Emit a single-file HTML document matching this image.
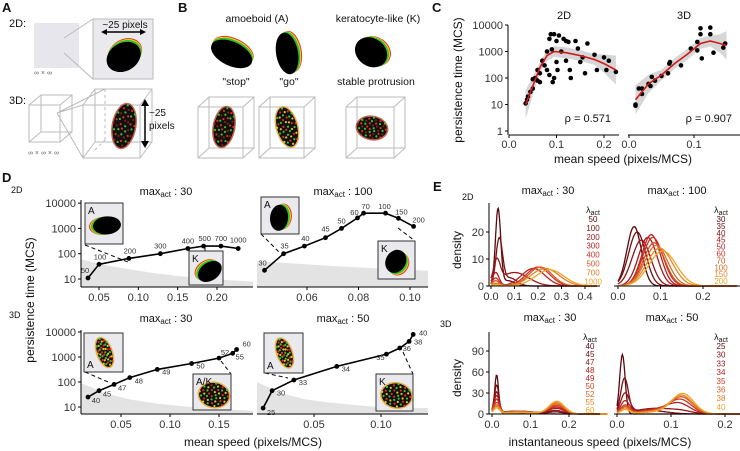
<!DOCTYPE html>
<html><head><meta charset="utf-8"><style>
html,body{margin:0;padding:0;background:#fff;}
svg{display:block;font-family:"Liberation Sans",sans-serif;}
</style></head><body>
<svg id="fig" width="740" height="451" viewBox="0 0 740 451" xmlns="http://www.w3.org/2000/svg"></svg>
<script>
// ---------- DATA ----------
const c2dSpeed=[0.035,0.038,0.04,0.045,0.05,0.05,0.055,0.06,0.06,0.065,0.065,0.07,0.075,0.08,0.08,0.085,0.085,0.088,0.09,0.092,0.095,0.095,0.1,0.1,0.102,0.105,0.11,0.115,0.12,0.12,0.125,0.128,0.13,0.14,0.145,0.15,0.155,0.16,0.165,0.18,0.185,0.2,0.205,0.21,0.225];
const c2dPers=[11,15,20,30,40,90,100,80,200,70,150,450,300,1000,200,130,3000,4500,1200,70,4500,100,400,2500,200,4000,1000,3000,2500,450,2300,200,100,2500,1300,400,600,150,2000,750,200,600,200,450,170];
const c2dFitSpeed=[0.035,0.05,0.065,0.08,0.095,0.12,0.15,0.18,0.2,0.225];
const c2dFitPers=[10,50,250,700,1000,900,700,500,350,200];
const c3dSpeed=[0.01,0.01,0.015,0.02,0.02,0.03,0.033,0.035,0.04,0.05,0.06,0.062,0.063,0.08,0.095,0.105,0.105,0.11,0.11,0.112,0.125,0.125,0.13,0.145,0.148];
const c3dPers=[9,10,40,25,40,60,50,110,80,120,150,350,400,300,1300,2300,1100,4500,7500,550,8000,4500,900,1400,2000];
const c3dFitSpeed=[0.01,0.03,0.05,0.07,0.09,0.11,0.125,0.14,0.15];
const c3dFitPers=[15,60,130,350,800,2000,2500,2000,1700];
const dTLlambda=['50','100','200','300','400','500','700','1000'];
const dTLspeed=[0.036,0.05,0.088,0.128,0.163,0.183,0.205,0.227];
const dTLpers=[11,38,65,100,160,200,200,160];
const dTRlambda=['30','35','40','45','50','60','70','100','150','200'];
const dTRspeed=[0.0435,0.0509,0.059,0.0672,0.0734,0.0796,0.082,0.0905,0.0955,0.1014];
const dTRpers=[22,100,200,430,1000,2600,4000,4000,2500,1200];
const dBLlambda=['40','45','47','48','49','50','52','55','60'];
const dBLspeed=[0.0163,0.0276,0.043,0.059,0.087,0.122,0.150,0.164,0.168];
const dBLpers=[25,45,80,150,320,550,900,1400,2000];
const dBRlambda=['25','30','33','34','35','36','38','40'];
const dBRspeed=[0.012,0.0187,0.035,0.067,0.104,0.114,0.121,0.124];
const dBRpers=[9,45,120,420,1300,2300,4200,8000];
const eTLlambda=['50','100','200','300','400','500','700','1000'];
const eTLpeaks=[[28,0.03,0.011,2,0.07,0.03],[17,0.035,0.014,3,0.08,0.03],[8,0.025,0.014,5,0.1,0.06],[5,0.02,0.014,6.5,0.18,0.05],[3,0.02,0.014,7,0.2,0.05],[2,0.02,0.014,7,0.21,0.05],[1,0.02,0.02,6.5,0.23,0.06],[0.5,0.02,0.02,6,0.25,0.06]];
const eTRlambda=['30','35','40','45','50','60','70','100','150','200'];
const eTRpeaks=[[22,0.038,0.017],[20,0.045,0.02],[17,0.055,0.022],[18,0.07,0.022],[19,0.078,0.022],[18,0.082,0.024],[16,0.085,0.025],[15,0.09,0.027],[14,0.098,0.03],[13,0.105,0.032]];
const eBLlambda=['40','45','47','48','49','50','52','55','60'];
const eBLpeaks=[[55,0.012,0.005,2,0.06,0.04],[40,0.012,0.006,3,0.06,0.04,3,0.165,0.02],[30,0.012,0.006,4,0.06,0.04,5,0.165,0.02],[25,0.012,0.007,4,0.07,0.04,8,0.167,0.02],[20,0.012,0.007,4,0.07,0.04,10,0.167,0.02],[15,0.012,0.008,4,0.07,0.04,12,0.168,0.02],[12,0.012,0.008,3,0.07,0.04,14,0.168,0.02],[10,0.012,0.008,3,0.07,0.04,16,0.168,0.02],[8,0.012,0.008,2,0.07,0.04,18,0.168,0.02]];
const eBRlambda=['25','30','33','34','35','36','38','40'];
const eBRpeaks=[[85,0.01,0.005],[50,0.014,0.007,5,0.06,0.03],[28,0.015,0.008,8,0.07,0.035,3,0.12,0.02],[18,0.015,0.008,7,0.08,0.035,12,0.115,0.02],[12,0.015,0.008,6,0.08,0.035,18,0.118,0.02],[10,0.015,0.008,5,0.08,0.035,22,0.12,0.02],[8,0.015,0.008,4,0.08,0.035,25,0.12,0.02],[6,0.015,0.008,3,0.08,0.035,28,0.122,0.02]];

// ---------- HELPERS ----------
const NS='http://www.w3.org/2000/svg';
const svg=document.getElementById('fig');
const TF=11;
function mk(tag,attrs,parent){const e=document.createElementNS(NS,tag);for(const k in attrs)e.setAttribute(k,attrs[k]);(parent||svg).appendChild(e);return e;}
function txt(x,y,s,size,anchor,parent,extra){const t=mk('text',Object.assign({x:x,y:y,'font-size':size,'text-anchor':anchor||'middle',fill:'#111'},extra||{}),parent);t.textContent=s;return t;}
function lin(d0,d1,r0,r1){return v=>r0+(v-d0)*(r1-r0)/(d1-d0);}
function logy(y10,dec){return v=>y10-(Math.log10(v)-1)*dec;}
function lerpColor(t){const a=[90,8,12],b=[200,35,35],c=[240,165,40];let p,q,u;if(t<0.5){p=a;q=b;u=t*2;}else{p=b;q=c;u=(t-0.5)*2;}return 'rgb('+p.map((v,i)=>Math.round(v+(q[i]-v)*u)).join(',')+')';}

[['A',2,12],['B',178,12],['C',432,12],['D',2,182],['E',433,191]].forEach(l=>{const t=txt(l[1],l[2],l[0],13,'start',null,{'font-weight':'bold'});});

function blob2d(g,cx,cy,rx,ry,rot,edgeAngle){
  const gg=mk('g',{transform:'translate('+cx+','+cy+') rotate('+rot+')'},g);
  const cols=['#e53020','#f5d020','#30c030'];
  cols.forEach((c,i)=>{mk('ellipse',{cx:Math.cos(edgeAngle)*(3-i),cy:Math.sin(edgeAngle)*(3-i),rx:rx,ry:ry,fill:c},gg);});
  mk('ellipse',{cx:-Math.cos(edgeAngle)*1,cy:-Math.sin(edgeAngle)*1,rx:rx,ry:ry,fill:'#000'},gg);
}
function blob3d(g,cx,cy,rx,ry,rot,mix){
  const gg=mk('g',{transform:'translate('+cx+','+cy+') rotate('+rot+')'},g);
  mk('ellipse',{cx:0,cy:0,rx:rx+1.5,ry:ry+1.5,fill:mix>0.5?'#e8a020':'#b84020',opacity:0.8},gg);
  mk('ellipse',{cx:0,cy:0,rx:rx,ry:ry,fill:'#111'},gg);
  for(let i=0;i<40;i++){const a=i*2.39996,r=Math.sqrt((i+0.5)/40);const x=Math.cos(a)*r*rx,y=Math.sin(a)*r*ry;
    mk('circle',{cx:x.toFixed(1),cy:y.toFixed(1),r:1.1,fill:(i%3==0)?'#40c030':(i%3==1?'#e03020':(mix>0.5?'#f0c020':'#802010'))},gg);}
}
function cube(g,x,y,w,h,dx,dy,col){
  const s={fill:'none',stroke:col||'#bbb','stroke-width':1};
  mk('rect',Object.assign({x:x+dx,y:y-dy,width:w,height:h},s),g);
  mk('path',Object.assign({d:`M${x},${y}L${x+dx},${y-dy}M${x+w},${y}L${x+w+dx},${y-dy}M${x+w},${y+h}L${x+w+dx},${y+h-dy}M${x},${y+h}L${x+dx},${y+h-dy}`},s),g);
  mk('rect',Object.assign({x:x,y:y,width:w,height:h},s),g);
}

// ---------- Panel A ----------
const gA=mk('g',{});
txt(9,27,'2D:',11,'start',gA);
mk('rect',{x:34,y:23,width:45,height:45,fill:'#e6e6ec'},gA);
txt(34,75,'∞ × ∞',7,'start',gA,{fill:'#666'});
mk('path',{d:'M64,38L93,19M64,53L93,79',stroke:'#bbb',fill:'none'},gA);
mk('rect',{x:93,y:19,width:60,height:60,fill:'#eaeaee',stroke:'#bbb'},gA);
txt(125,28,'~25 pixels',10,'middle',gA);
mk('path',{d:'M103,32L144,32',stroke:'#000','stroke-width':1.5},gA);
mk('path',{d:'M101,32L107,29L107,35Z M146,32L140,29L140,35Z',fill:'#000'},gA);
blob2d(gA,124,56,18,14,-30,-0.7);
txt(9,104,'3D:',11,'start',gA);
cube(gA,29,105,31,37,12,10,'#bbb');
txt(28,155,'∞ × ∞ × ∞',7,'start',gA,{fill:'#666'});
mk('path',{d:'M57,113L105,89M57,113L83,105M57,113L83,158',stroke:'#bbb',fill:'none'},gA);
cube(gA,83,105,57,53,12,16,'#bbb');
mk('path',{d:'M95,150L105,140M105,89L105,140',stroke:'#bbb','stroke-dasharray':'3,3',fill:'none'},gA);
blob3d(gA,124,126,11,22,10,0.3);
mk('path',{d:'M145,102L145,145',stroke:'#000','stroke-width':1.5},gA);
mk('path',{d:'M145,99L141,106L149,106Z M145,148L141,141L149,141Z',fill:'#000'},gA);
txt(149,116,'~25',10,'start',gA);txt(149,129,'pixels',10,'start',gA);

// ---------- Panel B ----------
const gB=mk('g',{});
txt(257,22,'amoeboid (A)',10.5,'middle',gB);
txt(378,22,'keratocyte-like (K)',10.5,'middle',gB);
txt(236,85,'"stop"',10.5,'middle',gB);txt(289,85,'"go"',10.5,'middle',gB);txt(376,85,'stable protrusion',10.5,'middle',gB);
blob2d(gB,232,53,22,12,25,-1.6);
blob2d(gB,288,53,11,21,-10,-0.3);
blob2d(gB,372,52,17,14,35,-0.9);
cube(gB,198,107,45,51,11,10);cube(gB,259,107,45,51,11,10);cube(gB,346,107,48,51,11,10);
blob3d(gB,224,127,10,20,10,0.2);blob3d(gB,287,127,10,20,-15,0.6);blob3d(gB,372,128,15,11,10,0.4);

// ---------- Panel C ----------
const gC=mk('g',{});
const cy=v=>131-26.5*Math.log10(v);
function cPanel(x0,x1,xs,speeds,pers,fs,fp,title,rho,ticks,name){
  const g=mk('g',{},gC);
  txt((x0+x1)/2,19,title,11,'middle',g);
  let up='',lo='';
  fs.forEach((s,i)=>{const w=(i==0||i==fs.length-1)?3.5:(i==1||i==fs.length-2?2.2:1.6);up+=(i?'L':'M')+xs(s).toFixed(1)+','+cy(fp[i]*w).toFixed(1);});
  for(let i=fs.length-1;i>=0;i--){const w=(i==0||i==fs.length-1)?3.5:(i==1||i==fs.length-2?2.2:1.6);lo+='L'+xs(fs[i]).toFixed(1)+','+cy(fp[i]/w).toFixed(1);}
  const band=mk('path',{d:up+lo+'Z',fill:'#bbb',opacity:0.6},g);
  speeds.forEach((s,i)=>{const c=mk('circle',{cx:xs(s).toFixed(1),cy:cy(pers[i]).toFixed(1),r:2.3,fill:'#000'},g);});
  let d='';fs.forEach((s,i)=>{d+=(i?'L':'M')+xs(s).toFixed(1)+','+cy(fp[i]).toFixed(1);});
  const fl=mk('path',{d:d,stroke:'#d01818','stroke-width':1.6,fill:'none','stroke-linejoin':'round'},g);
  mk('line',{x1:x0,y1:135,x2:x1,y2:135,stroke:'#000'},g);
  ticks.forEach(t=>{mk('line',{x1:xs(t[0]),y1:135,x2:xs(t[0]),y2:138,stroke:'#000'},g);txt(xs(t[0]),148,t[1],TF,'middle',g,{fill:'#333'});});
  txt(x1-8,122,rho,11,'end',g);
}
const cxs2=lin(0,0.1,509,556.5);
cPanel(509,619,cxs2,c2dSpeed,c2dPers,c2dFitSpeed,c2dFitPers,'2D','ρ = 0.571',[[0,'0.0'],[0.1,'0.1'],[0.2,'0.2']],'scatter-2d');
const cxs3=lin(0,0.1,629,694);
cPanel(628,740,cxs3,c3dSpeed,c3dPers,c3dFitSpeed,c3dFitPers,'3D','ρ = 0.907',[[0,'0.0'],[0.1,'0.1']],'scatter-3d');
mk('line',{x1:508,y1:25,x2:508,y2:135,stroke:'#000'},gC);
[[10000,'10000'],[1000,'1000'],[100,'100'],[10,'10'],[1,'1']].forEach(t=>{mk('line',{x1:505,y1:cy(t[0]),x2:508,y2:cy(t[0]),stroke:'#000'},gC);txt(503,cy(t[0])+4,t[1],TF,'end',gC,{fill:'#333'});});
txt(623,163,'mean speed (pixels/MCS)',12,'middle',gC);
const cyl=txt(0,0,'persistence time (MCS)',12,'middle',gC,{transform:'translate(462,80) rotate(-90)'});

// ---------- Panel D ----------
const gD=mk('g',{});
function title(x,y,num,g){const t=mk('text',{x:x,y:y,'font-size':11,'text-anchor':'middle',fill:'#111'},g);
  const a=mk('tspan',{},t);a.textContent='max';const b=mk('tspan',{'font-size':8,dy:2},t);b.textContent='act';const c=mk('tspan',{dy:-2},t);c.textContent=' : '+num;return t;}
function inset(g,x,y,w,h,label,kind){
  mk('rect',{x:x,y:y,width:w,height:h,fill:'#eaeaee',stroke:'#333','stroke-width':1},g);
  if(kind=='2a')blob2d(g,x+w/2+2,y+h/2+2,14,9,-5,3.1);
  if(kind=='2b')blob2d(g,x+w/2,y+h/2+2,9,13,5,-0.4);
  if(kind=='2k')blob2d(g,x+w/2+3,y+h/2+3,13,9,-35,-2.0);
  if(kind=='2k2')blob2d(g,x+w/2,y+h/2+2,10,12,30,0.2);
  if(kind=='3a')blob3d(g,x+w/2+1,y+h/2,7,15,-20,0.6);
  if(kind=='3k')blob3d(g,x+w/2+2,y+h/2+3,15,12,10,0.8);
  txt(x+3,y+(label=='A'&&kind[0]=='3'?h-4:11),label,10,'start',g);
}
function dPanel(o){
  const g=mk('g',{},gD);
  let d='M'+o.x0+','+o.yb;o.shade.forEach((v,i)=>{const x=o.x0+(o.x1-o.x0)*i/(o.shade.length-1);d+='L'+x.toFixed(1)+','+o.ys(v).toFixed(1);});d+='L'+o.x1+','+o.yb+'Z';
  const sh=mk('path',{d:d,fill:'#e3e3e3'},g);
  o.insets.forEach(s=>{mk('path',{d:s.line,stroke:'#000','stroke-dasharray':'4,3',fill:'none'},g);});
  let p='';o.sp.forEach((s,i)=>{p+=(i?'L':'M')+o.xs(s).toFixed(1)+','+o.ys(o.pe[i]).toFixed(1);});
  const l=mk('path',{d:p,stroke:'#000','stroke-width':1.6,fill:'none'},g);
  o.sp.forEach((s,i)=>{const c=mk('circle',{cx:o.xs(s).toFixed(1),cy:o.ys(o.pe[i]).toFixed(1),r:2.4,fill:'#000'},g);
    const off=o.lab[i]||[0,-4];txt(o.xs(s)+off[0],o.ys(o.pe[i])+off[1],o.lam[i],7.5,'middle',g,{fill:'#333'});});
  o.insets.forEach(s=>inset(g,s.x,s.y,s.w,s.h,s.label,s.kind));
  mk('line',{x1:o.x0,y1:o.yb,x2:o.x1,y2:o.yb,stroke:'#000'},g);
  o.ticks.forEach(t=>{const x=o.xs(t[0]);mk('line',{x1:x,y1:o.yb,x2:x,y2:o.yb+3,stroke:'#000'},g);txt(x,o.yb+14,t[1],TF,'middle',g,{fill:'#333'});});
  if(o.yaxis){mk('line',{x1:o.x0,y1:o.yt,x2:o.x0,y2:o.yb,stroke:'#000'},g);
    [10000,1000,100,10].forEach(v=>{mk('line',{x1:o.x0-3,y1:o.ys(v),x2:o.x0,y2:o.ys(v),stroke:'#000'},g);txt(o.x0-5,o.ys(v)+4,String(v),TF,'end',g,{fill:'#333'});});}
}
const ysTop=logy(279,25.3), ysBot=logy(407,25);
dPanel({name:'d-2d-max30',x0:81,x1:253,yt:200,yb:287,xs:lin(0.05,0.2,99,217),ys:ysTop,sp:dTLspeed,pe:dTLpers,lam:dTLlambda,
  lab:[[-3,-5],[1,-5],[1,-5],[0,-5],[0,-5],[1,-5],[0,-5],[0,-6]],shade:[60,35,24,17,13,11,9,8],yaxis:true,
  ticks:[[0.05,'0.05'],[0.1,'0.10'],[0.15,'0.15'],[0.2,'0.20']],
  insets:[{x:85,y:203,w:38,h:41,label:'A',kind:'2a',line:'M85,245L128,262'},{x:189,y:251,w:34,h:34,label:'K',kind:'2k',line:'M205,251L205,244'}]});
dPanel({name:'d-2d-max100',x0:257,x1:428,yt:200,yb:287,xs:lin(0.06,0.1,307,410),ys:ysTop,sp:dTRspeed,pe:dTRpers,lam:dTRlambda,
  lab:[[-2,-5],[1,-5],[1,-5],[0,-6],[0,-5],[-3,-3],[2,-4],[-1,-4],[3,-4],[5,-4]],shade:[50,44,38,33,29,26,23,21],yaxis:false,
  ticks:[[0.06,'0.06'],[0.08,'0.08'],[0.1,'0.10']],
  insets:[{x:261,y:197,w:38,h:37,label:'A',kind:'2b',line:'M261,234L279,252'},{x:378,y:241,w:37,h:38,label:'K',kind:'2k2',line:'M398,228L415,241'}]});
dPanel({name:'d-3d-max30',x0:81,x1:253,yt:330,yb:414,xs:lin(0.05,0.15,121,219),ys:ysBot,sp:dBLspeed,pe:dBLpers,lam:dBLlambda,
  lab:[[8,6],[8,6],[8,6],[9,6],[9,5],[9,5],[6,-3],[7,6],[10,-3]],shade:[90,35,20,14,11,9,8,7],yaxis:true,
  ticks:[[0.05,'0.05'],[0.1,'0.10'],[0.15,'0.15']],
  insets:[{x:84,y:333,w:39,h:39,label:'A',kind:'3a',line:'M85,372L108,382'},{x:193,y:374,w:38,h:36,label:'A/K',kind:'3k',line:'M221,361L231,374'}]});
dPanel({name:'d-3d-max50',x0:257,x1:428,yt:330,yb:414,xs:lin(0.05,0.1,314,381),ys:ysBot,sp:dBRspeed,pe:dBRpers,lam:dBRlambda,
  lab:[[8,7],[9,5],[9,5],[9,5],[-6,6],[7,3],[9,3],[10,1]],shade:[100,35,20,15,12,10,9,9],yaxis:false,
  ticks:[[0.05,'0.05'],[0.1,'0.10']],
  insets:[{x:264,y:333,w:39,h:40,label:'A',kind:'3a',line:'M265,373L288,378'},{x:376,y:374,w:37,h:37,label:'K',kind:'3k',line:'M403,352L413,374'}]});
txt(11,193,'2D',9,'start',gD);txt(9,318,'3D',9,'start',gD);
title(166,195,'30',gD);title(343,195,'100',gD);title(166,322,'30',gD);title(343,322,'50',gD);
txt(0,0,'persistence time (MCS)',12,'middle',gD,{transform:'translate(34,300) rotate(-90)'});
txt(253,446,'mean speed (pixels/MCS)',12,'middle',gD);

// ---------- Panel E ----------
const gE=mk('g',{});
function dens(pk,x){let s=0;for(let i=0;i<pk.length;i+=3)s+=pk[i]*Math.exp(-0.5*Math.pow((x-pk[i+1])/pk[i+2],2));return s;}
function ePanel(o){
  const g=mk('g',{},gE);
  const n=o.peaks.length;
  o.peaks.forEach((pk,k)=>{let d='';for(let j=0;j<=160;j++){const x=o.xmax*j/160;d+=(j?'L':'M')+o.xs(x).toFixed(1)+','+o.ys(dens(pk,x)).toFixed(1);}
    const p=mk('path',{d:d,stroke:lerpColor(k/(n-1)),'stroke-width':1.3,fill:'none'},g);});
  mk('line',{x1:o.x0,y1:o.ys(0),x2:o.x1,y2:o.ys(0),stroke:'#000'},g);
  o.xt.forEach(t=>{const x=o.xs(t);mk('line',{x1:x,y1:o.ys(0),x2:x,y2:o.ys(0)+3,stroke:'#000'},g);txt(x,o.ys(0)+14,t.toFixed(1),TF,'middle',g,{fill:'#333'});});
  if(o.yt){mk('line',{x1:o.x0,y1:o.ytop,x2:o.x0,y2:o.ys(0),stroke:'#000'},g);
    o.yt.forEach(v=>{mk('line',{x1:o.x0-3,y1:o.ys(v),x2:o.x0,y2:o.ys(v),stroke:'#000'},g);txt(o.x0-5,o.ys(v)+4,String(v),TF,'end',g,{fill:'#333'});});}
  const lt=mk('text',{x:o.lx,y:o.ly-6,'font-size':9,'text-anchor':'middle',fill:'#111'},g);const a=mk('tspan',{},lt);a.textContent='λ';const b=mk('tspan',{'font-size':7,dy:2},lt);b.textContent='act';
  o.lam.forEach((l,k)=>{const t=txt(o.lx,o.ly+3+k*o.step,l,8,'middle',g,{fill:lerpColor(k/(n-1))});});
}
const eysT=v=>286-v*2.7, eysB=v=>414-v*0.7;
ePanel({name:'e-2d-max30',x0:489,x1:600,xs:lin(0,0.4,491,585),ys:eysT,ytop:203,xmax:0.45,peaks:eTLpeaks,lam:eTLlambda,xt:[0,0.1,0.2,0.3,0.4],yt:[0,10,20],lx:593,ly:219,step:8.9});
ePanel({name:'e-2d-max100',x0:614,x1:740,xs:lin(0,0.2,618,703),ys:eysT,xmax:0.28,peaks:eTRpeaks,lam:eTRlambda,xt:[0,0.1,0.2],lx:721,ly:219,step:6.9});
ePanel({name:'e-3d-max30',x0:489,x1:600,xs:lin(0,0.2,492,569),ys:eysB,ytop:332,xmax:0.3,peaks:eBLpeaks,lam:eBLlambda,xt:[0,0.1,0.2],yt:[0,30,60,90],lx:590,ly:346,step:8});
ePanel({name:'e-3d-max50',x0:614,x1:740,xs:lin(0,0.2,617,725),ys:eysB,xmax:0.23,peaks:eBRpeaks,lam:eBRlambda,xt:[0,0.1,0.2],lx:721,ly:346,step:8.7});
txt(462,200,'2D',9,'start',gE);txt(440,327,'3D',9,'start',gE);
title(548,194,'30',gE);title(677,194,'100',gE);title(550,321,'30',gE);title(672,321,'50',gE);
txt(0,0,'density',12,'middle',gE,{transform:'translate(461,250) rotate(-90)'});
txt(0,0,'density',12,'middle',gE,{transform:'translate(461,378) rotate(-90)'});
txt(600,446,'instantaneous speed (pixels/MCS)',12,'middle',gE);
</script>
</body></html>
